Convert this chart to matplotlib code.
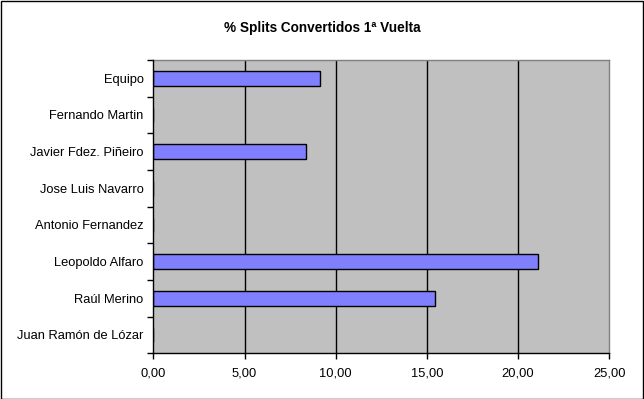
import matplotlib
matplotlib.use("Agg")
import matplotlib.pyplot as plt
from matplotlib.patches import Rectangle
from matplotlib.ticker import FixedLocator

plt.rcParams['font.family'] = ['Liberation Sans', 'DejaVu Sans']

names = ["Equipo", "Fernando Martin", "Javier Fdez. Piñeiro", "Jose Luis Navarro",
         "Antonio Fernandez", "Leopoldo Alfaro", "Raúl Merino", "Juan Ramón de Lózar"]
values = [9.12, 0, 8.35, 0, 0, 21.1, 15.44, 0]
xticks = [0, 5, 10, 15, 20, 25]
xticklabels = ["0,00", "5,00", "10,00", "15,00", "20,00", "25,00"]

fig = plt.figure(figsize=(6.44, 3.99), dpi=100)
ax = fig.add_axes([153.3 / 644, 1 - 353.3 / 399, (609.3 - 153.3) / 644, (353.3 - 60) / 399])
ax.set_facecolor("#C0C0C0")

ypos = list(range(len(names)))
ax.barh(ypos, values, height=0.4, color="#8080FF", edgecolor="black", linewidth=1, zorder=3)

ax.set_xlim(0, 25)
ax.set_ylim(len(names) - 0.5, -0.5)
ax.set_xticks(xticks)
ax.set_xticklabels(xticklabels, fontsize=9.3)
ax.set_yticks(ypos)
ax.set_yticklabels(names, fontsize=9.3)
ax.tick_params(axis="y", length=0, pad=7)
ax.yaxis.set_minor_locator(FixedLocator([i - 0.5 for i in range(len(names) + 1)]))
ax.tick_params(axis="y", which="minor", length=4, width=1, color="black")
ax.tick_params(axis="x", length=4, width=1, color="black", pad=6)

for v in xticks[1:-1]:
    ax.axvline(v, color="black", linewidth=1, zorder=1)

for side in ["top", "right"]:
    ax.spines[side].set_color("#808080")
    ax.spines[side].set_linewidth(1)
for side in ["left", "bottom"]:
    ax.spines[side].set_color("black")
    ax.spines[side].set_linewidth(1)
    ax.spines[side].set_zorder(4)

fig.text(0.5, 1 - 28 / 399, "% Splits Convertidos 1ª Vuelta", ha="center", va="center",
         fontsize=9.8, fontweight="bold")

fig.patches.append(Rectangle((0.5 / 644, 0.5 / 399), 1 - 1.5 / 644, 1 - 1.5 / 399,
                             transform=fig.transFigure, fill=False, edgecolor="black", linewidth=1))

fig.savefig("out.png", dpi=100)
